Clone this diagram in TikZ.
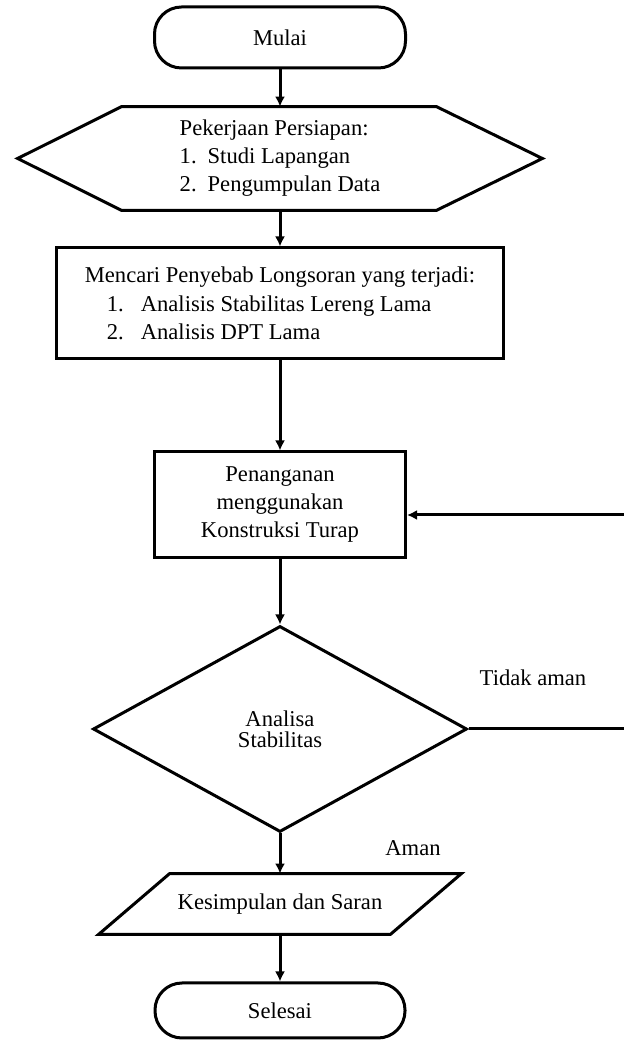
\documentclass[tikz,border=0pt]{standalone}
\usepackage{fontspec}
\setmainfont{Liberation Serif}
\usepackage{tikz}
\usetikzlibrary{calc,shapes.geometric,arrows.meta}

\newcommand{\hexitem}[2]{\makebox[14pt][l]{#1}#2}
\newcommand{\causeitem}[2]{\hspace*{11pt}\makebox[17pt][l]{#1}#2}

\begin{document}
\begin{tikzpicture}[x=0.5pt, y=0.5pt,
  every node/.style={font=\fontsize{11.3}{14}\selectfont, inner sep=0pt},
  term/.style={draw, line width=1.5pt, rounded corners=13.5pt, minimum width=125.5pt},
  plainbox/.style={draw, line width=1.5pt, rectangle},
  decide/.style={draw, line width=1.5pt, diamond, minimum width=187pt, minimum height=103pt, align=center, font=\fontsize{11.3}{10.5}\selectfont},
  flow/.style={line width=1.5pt, -{Latex[length=5pt,width=5pt]}},
  outline/.style={line width=1.5pt, line join=miter}]
  \useasboundingbox (0,0) rectangle (624,1040);
  \node[term, minimum height=30.5pt] (start) at (280,1002.5) {Mulai};
  \node[minimum width=262pt, minimum height=51.5pt, align=left] (prep) at (280,881.5) {Pekerjaan Persiapan:\\\hexitem{1.}{Studi Lapangan}\\\hexitem{2.}{Pengumpulan Data}};
  \draw[outline] (prep.west) -- ($(prep.north west)+(104,0)$) -- ($(prep.north east)+(-106,0)$) -- (prep.east) -- ($(prep.south east)+(-106,0)$) -- ($(prep.south west)+(104,0)$) -- cycle;
  \node[plainbox, minimum width=223.5pt, minimum height=55.5pt, align=left, font=\fontsize{11.3}{14.25}\selectfont] (cause) at (280,736.5) {Mencari Penyebab Longsoran yang terjadi:\\\causeitem{1.}{Analisis Stabilitas Lereng Lama}\\\causeitem{2.}{Analisis DPT Lama}};
  \node[plainbox, minimum width=125.5pt, minimum height=53pt, align=center] (handle) at (280,535) {Penanganan\\menggunakan\\Konstruksi Turap};
  \node[decide] (check) at (280,311) {Analisa\\Stabilitas};
  \node[minimum width=181pt, minimum height=30pt] (concl) at (280,136) {Kesimpulan dan Saran};
  \draw[outline] (concl.south west) -- ($(concl.north west)+(71,0)$) -- (concl.north east) -- ($(concl.south east)+(-71,0)$) -- cycle;
  \node[term, minimum height=27.5pt, minimum width=125pt] (finish) at (280,29.5) {Selesai};
  \node (notsafe) at (533,362) {Tidak aman};
  \node (safe) at (413,192) {Aman};
  \coordinate (back) at (624,525);
  \draw[flow] (start) -- (prep);
  \draw[flow] (prep) -- (cause);
  \draw[flow] (cause) -- (handle);
  \draw[flow] (handle) -- (check);
  \draw[flow] (check) -- (concl);
  \draw[flow] (concl) -- (finish);
  \draw[outline] (check.east) -- (check.east -| back);
  \draw[flow] (back) -- (back -| handle.east);
\end{tikzpicture}
\end{document}
